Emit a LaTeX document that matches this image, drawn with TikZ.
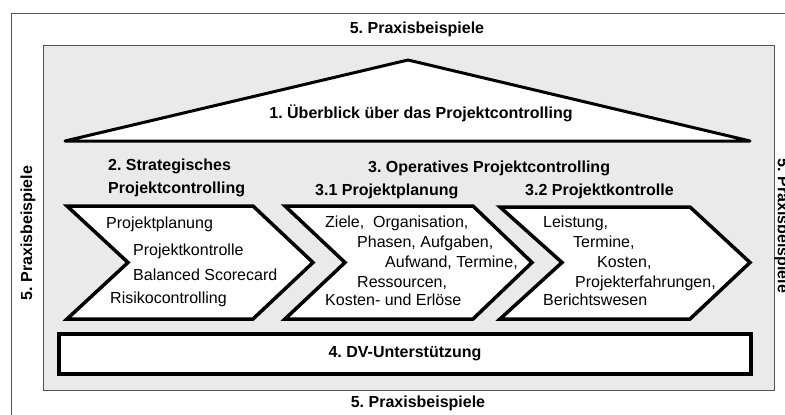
\documentclass[tikz,border=0pt]{standalone}
\usepackage{fontspec}
\setmainfont{Liberation Sans}
\frenchspacing
\definecolor{boxgray}{HTML}{EAEAEA}
\definecolor{framegray}{HTML}{555555}
\tikzset{
  body/.style={font=\fontsize{16}{19}\selectfont, inner sep=0pt, anchor=base west},
  head/.style={font=\fontsize{16}{19}\selectfont\bfseries, inner sep=0pt, anchor=base west},
  ctitle/.style={font=\fontsize{16}{19}\selectfont\bfseries, inner sep=0pt},
  chev/.style={draw=black, fill=white, line width=3.5pt, line join=miter},
}
\begin{document}
\begin{tikzpicture}[x=1pt,y=-1pt]
\useasboundingbox (0,0) rectangle (785,415);
\clip (0,0) rectangle (785,415);
% outer frame (cropped)
\draw[framegray, line width=1pt] (11,430) -- (11,13) -- (800,13);
% inner gray box
\draw[framegray, fill=boxgray, line width=1pt] (43,45) rectangle (774,390);
% outer labels
\node[ctitle] (t5top) at (417,29) {5. Praxisbeispiele};
\node[ctitle] (t5bot) at (418,403) {5. Praxisbeispiele};
\node[ctitle, rotate=90] (t5left) at (28,233) {5. Praxisbeispiele};
\node[ctitle, rotate=-90] (t5right) at (782,226) {5. Praxisbeispiele};
% roof
\draw[chev, line width=3pt, line join=round] (65,141) -- (408,60) -- (750,141) -- cycle;
\node[ctitle] (roof) at (421,113) {1. Überblick über das Projektcontrolling};
% headings
\node[head] (h2a) at (108,170.5) {2. Strategisches};
\node[head] (h2b) at (108,193.5) {Projektcontrolling};
\node[head] (h3) at (368,172.5) {3. Operatives Projektcontrolling};
\node[head] (h31) at (315,195.5) {3.1 Projektplanung};
\node[head] (h32) at (525,195.5) {3.2 Projektkontrolle};
% chevrons
\draw[chev] (67,206) -- (253,206) -- (313,262.5) -- (253,319) -- (67,319) -- (128,262.5) -- cycle;
\draw[chev] (285,206) -- (473,206) -- (532,262.5) -- (473,319) -- (285,319) -- (345,262.5) -- cycle;
\draw[chev] (500,207) -- (690,207) -- (750,262.5) -- (690,319) -- (500,319) -- (562,262.5) -- cycle;
% chevron 1 text
\node[body] (a1) at (106,228.5) {Projektplanung};
\node[body] (a2) at (133,255.5) {Projektkontrolle};
\node[body] (a3) at (133,280.5) {Balanced Scorecard};
\node[body] (a4) at (110,303.5) {Risikocontrolling};
% chevron 2 text
\node[body] (b1) at (325,227.5) {Ziele,\ \ Organisation,};
\node[body] (b2) at (357,247.5) {Phasen, Aufgaben,};
\node[body] (b3) at (385,267.5) {Aufwand, Termine,};
\node[body] (b4) at (357,287.5) {Ressourcen,};
\node[body] (b5) at (325,305.5) {Kosten- und Erlöse};
% chevron 3 text
\node[body] (c1) at (543,227.5) {Leistung,};
\node[body] (c2) at (573,247.5) {Termine,};
\node[body] (c3) at (597,267.5) {Kosten,};
\node[body] (c4) at (575,287.5) {Projekterfahrungen,};
\node[body] (c5) at (543,305.5) {Berichtswesen};
% DV box
\draw[chev] (59,334) rectangle (751,374);
\node[ctitle] (dv) at (405,354) {4. DV-Unterstützung};
\end{tikzpicture}
\end{document}
